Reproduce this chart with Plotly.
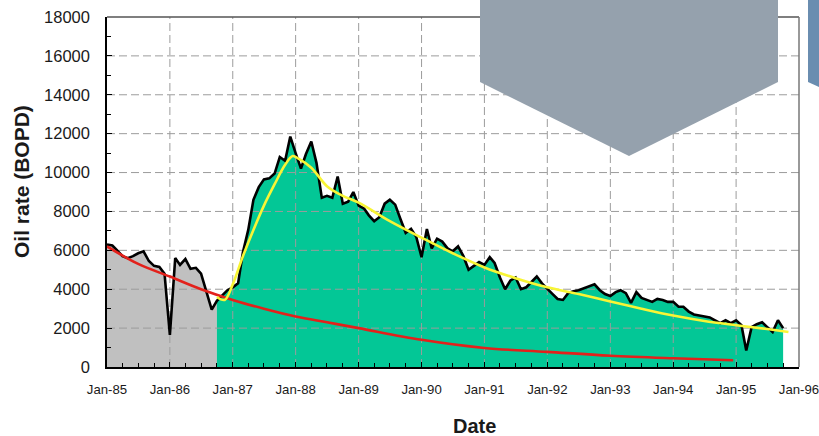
import pandas as pd
import plotly.graph_objects as go

# Monthly oil rate (BOPD), Jan-85 onwards
oil_rate = [6300, 6250, 6000, 5700, 5600, 5700, 5850, 5950, 5450, 5200,
            5150, 4800, 1650, 5600, 5250, 5550, 5050, 5100, 4800, 3900,
            2950, 3400, 3700, 3950, 4100, 4300, 5900, 7050, 8600, 9250,
            9650, 9700, 9950, 10800, 10600, 11850, 11000, 10200, 10950, 11600,
            10500, 8700, 8800, 8700, 9800, 8400, 8500, 9000, 8300, 8150,
            7800, 7500, 7700, 8400, 8600, 8350, 7600, 6900, 7100, 6700,
            5650, 7100, 6100, 6600, 6450, 6100, 5950, 6200, 5700, 5000,
            5200, 5400, 5250, 5650, 5350, 4600, 4000, 4450, 4600, 4000,
            4100, 4350, 4650, 4300, 4000, 3750, 3500, 3450, 3800, 3900,
            3950, 4050, 4150, 4250, 3950, 3750, 3650, 3850, 3950, 3800,
            3300, 3850, 3550, 3450, 3350, 3500, 3450, 3350, 3350, 3100,
            3100, 2850, 2700, 2650, 2600, 2550, 2400, 2250, 2400, 2250,
            2400, 2150, 850, 2050, 2200, 2300, 2050, 1800, 2400, 2000]
months = pd.date_range("1985-01-01", periods=len(oil_rate), freq="MS")
split_idx = 21  # first month of the post-treatment period

# Baseline decline (red)
base_dates = ["1985-01-01", "1985-07-01", "1986-01-01", "1986-07-01", "1987-01-01",
              "1987-07-01", "1988-01-01", "1988-07-01", "1989-01-01", "1990-01-01",
              "1991-01-01", "1992-01-01", "1993-01-01", "1994-01-01", "1994-12-15"]
base_rate = [6200, 5300, 4650, 4000, 3450, 3000, 2600, 2300, 2000, 1400,
             980, 780, 580, 450, 350]

# Fitted response curve (yellow)
fit_dates = ["1986-10-01", "1986-11-15", "1987-01-01", "1987-03-01", "1987-05-01",
             "1987-07-01", "1987-09-01", "1987-11-01", "1987-12-15", "1988-01-20",
             "1988-04-01", "1988-07-01", "1988-10-01", "1989-01-01", "1989-07-01",
             "1990-01-01", "1990-07-01", "1991-01-01", "1991-07-01", "1992-01-01",
             "1992-07-01", "1993-01-01", "1993-07-01", "1994-01-01", "1994-07-01",
             "1995-01-01", "1995-07-01", "1995-11-01"]
fit_rate = [3600, 3450, 4250, 5700, 7050, 8300, 9400, 10400, 10850, 10700,
            10250, 9300, 8800, 8450, 7500, 6650, 5850, 5120, 4570, 4100,
            3750, 3370, 3000, 2650, 2370, 2150, 1950, 1800]

year_ticks = [f"{y}-01-01" for y in range(1985, 1997)]
year_labels = [f"Jan-{y % 100:02d}" for y in range(1985, 1997)]
grid_years = year_ticks[1:-1]
grid_levels = list(range(2000, 18000, 2000))

Y_MAX = 18000
X_RANGE = ["1985-01-01", "1996-01-01 04:00"]

fig = go.Figure()

fig.add_trace(go.Scatter(x=months[:split_idx + 1], y=oil_rate[:split_idx + 1],
                         mode="lines", line=dict(width=0), fill="tozeroy",
                         fillcolor="#C0C0C0", hoverinfo="skip"))
fig.add_trace(go.Scatter(x=months[split_idx:], y=oil_rate[split_idx:],
                         mode="lines", line=dict(width=0), fill="tozeroy",
                         fillcolor="#03C796", hoverinfo="skip"))

# dashed grid drawn over the filled areas
gx, gy = [], []
for d in grid_years:
    gx += [d, d, None]
    gy += [0, Y_MAX, None]
for v in grid_levels:
    gx += [X_RANGE[0], X_RANGE[1], None]
    gy += [v, v, None]
fig.add_trace(go.Scatter(x=gx, y=gy, mode="lines",
                         line=dict(color="#9C9C9C", width=1, dash="8px,4px"),
                         hoverinfo="skip"))

fig.add_trace(go.Scatter(x=months, y=oil_rate, mode="lines",
                         line=dict(color="#000000", width=2.6)))
fig.add_trace(go.Scatter(x=base_dates, y=base_rate, mode="lines",
                         line=dict(color="#E3211B", width=2.6, shape="spline")))
fig.add_trace(go.Scatter(x=fit_dates, y=fit_rate, mode="lines",
                         line=dict(color="#F8F535", width=2.6, shape="spline")))

W, H = 819, 436
ML, MR, MT, MB = 107, 20, 17, 69
PW, PH = W - ML - MR, H - MT - MB


def px(x):
    return (x - ML) / PW


def py(y):
    return (H - MB - y) / PH


tick_font = dict(family="Liberation Sans, Arial, sans-serif", size=16.5, color="#1A1A1A")
xtick_font = dict(family="Liberation Sans, Arial, sans-serif", size=13.2, color="#1A1A1A")

fig.update_layout(
    width=W, height=H,
    margin=dict(l=ML, r=MR, t=MT, b=MB),
    paper_bgcolor="white", plot_bgcolor="white",
    showlegend=False,
    xaxis=dict(type="date", range=X_RANGE, tickmode="array", tickvals=year_ticks,
               ticktext=year_labels, ticks="inside", ticklen=5, tickcolor="#000",
               showgrid=False, zeroline=False, showline=True, linecolor="#000",
               linewidth=1.5, tickfont=xtick_font, ticklabelstandoff=9,
               ticklabeloverflow="allow", automargin=False,
               minor=dict(ticks="inside", dtick="M3", ticklen=4, tickcolor="#000",
                          showgrid=False)),
    yaxis=dict(range=[0, Y_MAX], dtick=2000, tickformat="d", ticks="inside",
               ticklen=5, tickcolor="#000", showgrid=False, zeroline=False,
               showline=True, linecolor="#000", linewidth=1.5, tickfont=tick_font,
               ticklabelstandoff=12, automargin=False,
               minor=dict(ticks="inside", dtick=1000, ticklen=4, tickcolor="#000",
                          showgrid=False)),
    annotations=[
        dict(text="<b>Oil rate (BOPD)</b>", xref="paper", yref="paper",
             x=px(21), y=py(182), textangle=-90, showarrow=False,
             font=dict(family="Liberation Sans, Arial, sans-serif", size=21, color="#1A1A1A"),
             xanchor="center", yanchor="middle"),
        dict(text="<b>Date</b>", xref="paper", yref="paper",
             x=px(475), y=py(426), showarrow=False,
             font=dict(family="Liberation Sans, Arial, sans-serif", size=20, color="#1A1A1A"),
             xanchor="center", yanchor="middle"),
    ],
    shapes=[
        # top and right frame
        dict(type="line", xref="paper", yref="paper", x0=0, x1=1, y0=1, y1=1,
             line=dict(color="#555555", width=1.5), layer="above"),
        dict(type="line", xref="paper", yref="paper", x0=1, x1=1, y0=0, y1=1,
             line=dict(color="#777777", width=1.5), layer="above"),
        # chevron overlays
        dict(type="path", xref="paper", yref="paper", layer="above",
             path=(f"M {px(480)} {py(0)} L {px(778)} {py(0)} L {px(778)} {py(82)} "
                   f"L {px(629)} {py(156)} L {px(480)} {py(82)} Z"),
             fillcolor="#95A1AD", line=dict(width=0)),
        dict(type="path", xref="paper", yref="paper", layer="above",
             path=(f"M {px(808)} {py(0)} L {px(819)} {py(0)} L {px(819)} {py(87)} "
                   f"L {px(808)} {py(82)} Z"),
             fillcolor="#6A8DB0", line=dict(width=0)),
    ],
)

fig.write_html("out.html")
